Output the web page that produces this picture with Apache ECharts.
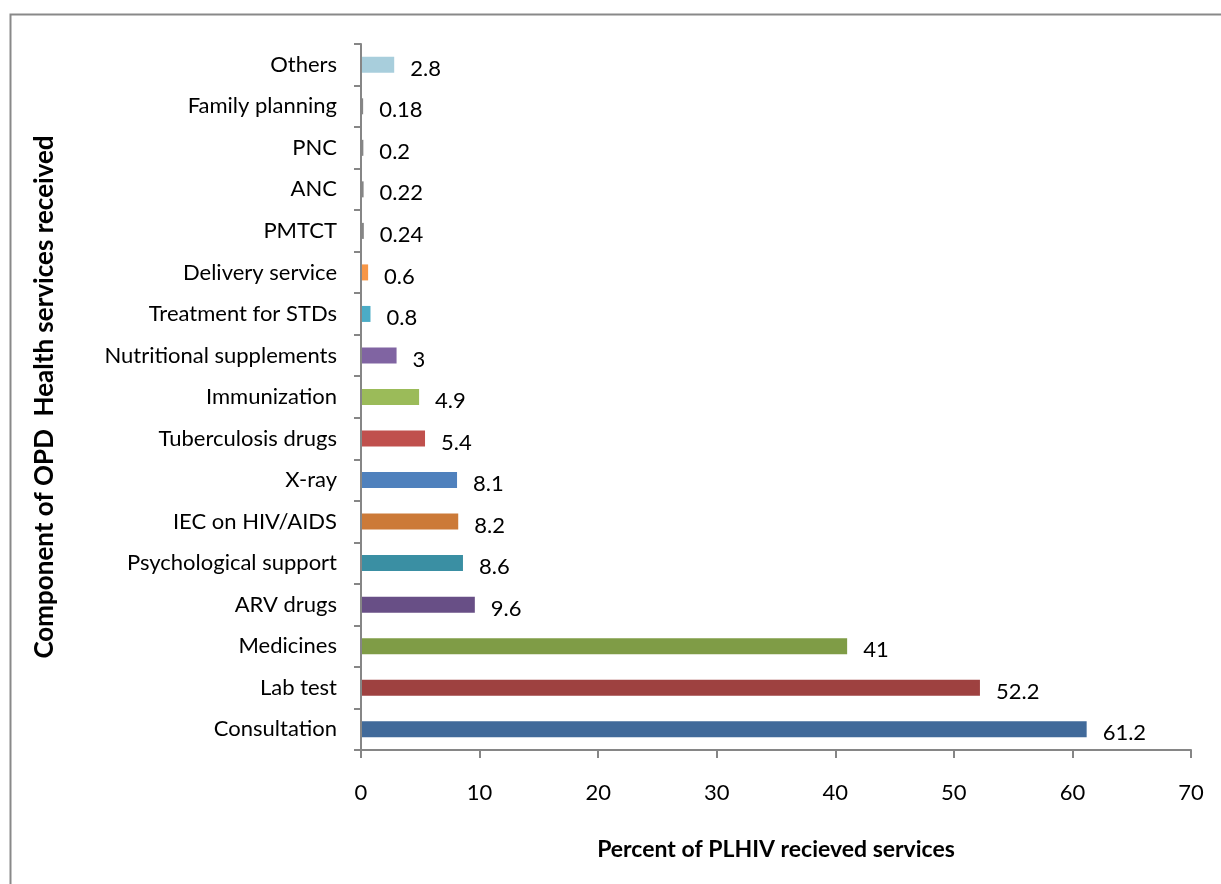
<!DOCTYPE html>
<html>
<head>
<meta charset="utf-8">
<script src="https://cdn.jsdelivr.net/npm/echarts@6/dist/echarts.min.js"></script>
<style>html,body{margin:0;padding:0;background:#fff}#c{width:1221px;height:884px}</style>
</head>
<body>
<div id="c"></div>
<script>
const categories = ["Consultation","Lab test","Medicines","ARV drugs","Psychological support","IEC on HIV/AIDS","X-ray","Tuberculosis drugs","Immunization","Nutritional supplements","Treatment for STDs","Delivery service","PMTCT","ANC","PNC","Family planning","Others"];
const values = [61.2,52.2,41,9.6,8.6,8.2,8.1,5.4,4.9,3,0.8,0.6,0.24,0.22,0.2,0.18,2.8];
const barColors = ["#416A9A","#9E4140","#7F9C46","#684F86","#3A8FA3","#CC7A38","#4F81BD","#C0504D","#9BBB59","#8064A2","#4BACC6","#F79646","#868686","#868686","#868686","#868686","#A8CEDC"];
const xTicks = {min:0, max:70, interval:10};
const xTitle = "Percent of PLHIV recieved services";
const yTitle = "Component of OPD  Health services received";

const FONT = "Lato,'Open Sans',sans-serif";
const chart = echarts.init(document.getElementById('c'), null, {renderer:'canvas'});
chart.setOption({
  animation:false,
  backgroundColor:'#fff',
  graphic:[{type:'rect',left:8,top:12,shape:{width:1400,height:1000},style:{fill:'none',stroke:'#898989',lineWidth:2},z:-1}],
  grid:{left:361,right:30,top:44,bottom:134},
  xAxis:{type:'value',min:xTicks.min,max:xTicks.max,interval:xTicks.interval,
    splitLine:{show:false},
    axisLine:{show:true,lineStyle:{color:'#868686',width:2}},
    axisTick:{show:true,length:8,lineStyle:{color:'#868686',width:2}},
    axisLabel:{color:'#000',fontSize:22,fontFamily:FONT,margin:32},
    name:xTitle,nameLocation:'middle',nameGap:88,
    nameTextStyle:{color:'#000',fontSize:23,fontWeight:'bold',fontFamily:FONT}},
  yAxis:{type:'category',data:categories,z:10,
    axisLine:{show:true,lineStyle:{color:'#868686',width:2}},
    axisTick:{show:true,length:7,lineStyle:{color:'#868686',width:2}},
    axisLabel:{color:'#000',fontSize:22,fontFamily:FONT,margin:24,padding:[4,0,0,0]},
    name:yTitle,nameLocation:'middle',nameGap:303,nameRotate:90,
    nameTextStyle:{color:'#000',fontSize:26,fontWeight:'bold',fontFamily:FONT}},
  series:[{type:'bar',barWidth:16,
    data:values.map((v,i)=>({value:v,itemStyle:{color:barColors[i]}})),
    label:{show:true,position:'right',distance:16,offset:[0,4],color:'#000',fontSize:22,fontFamily:FONT}}]
});
</script>
</body>
</html>
